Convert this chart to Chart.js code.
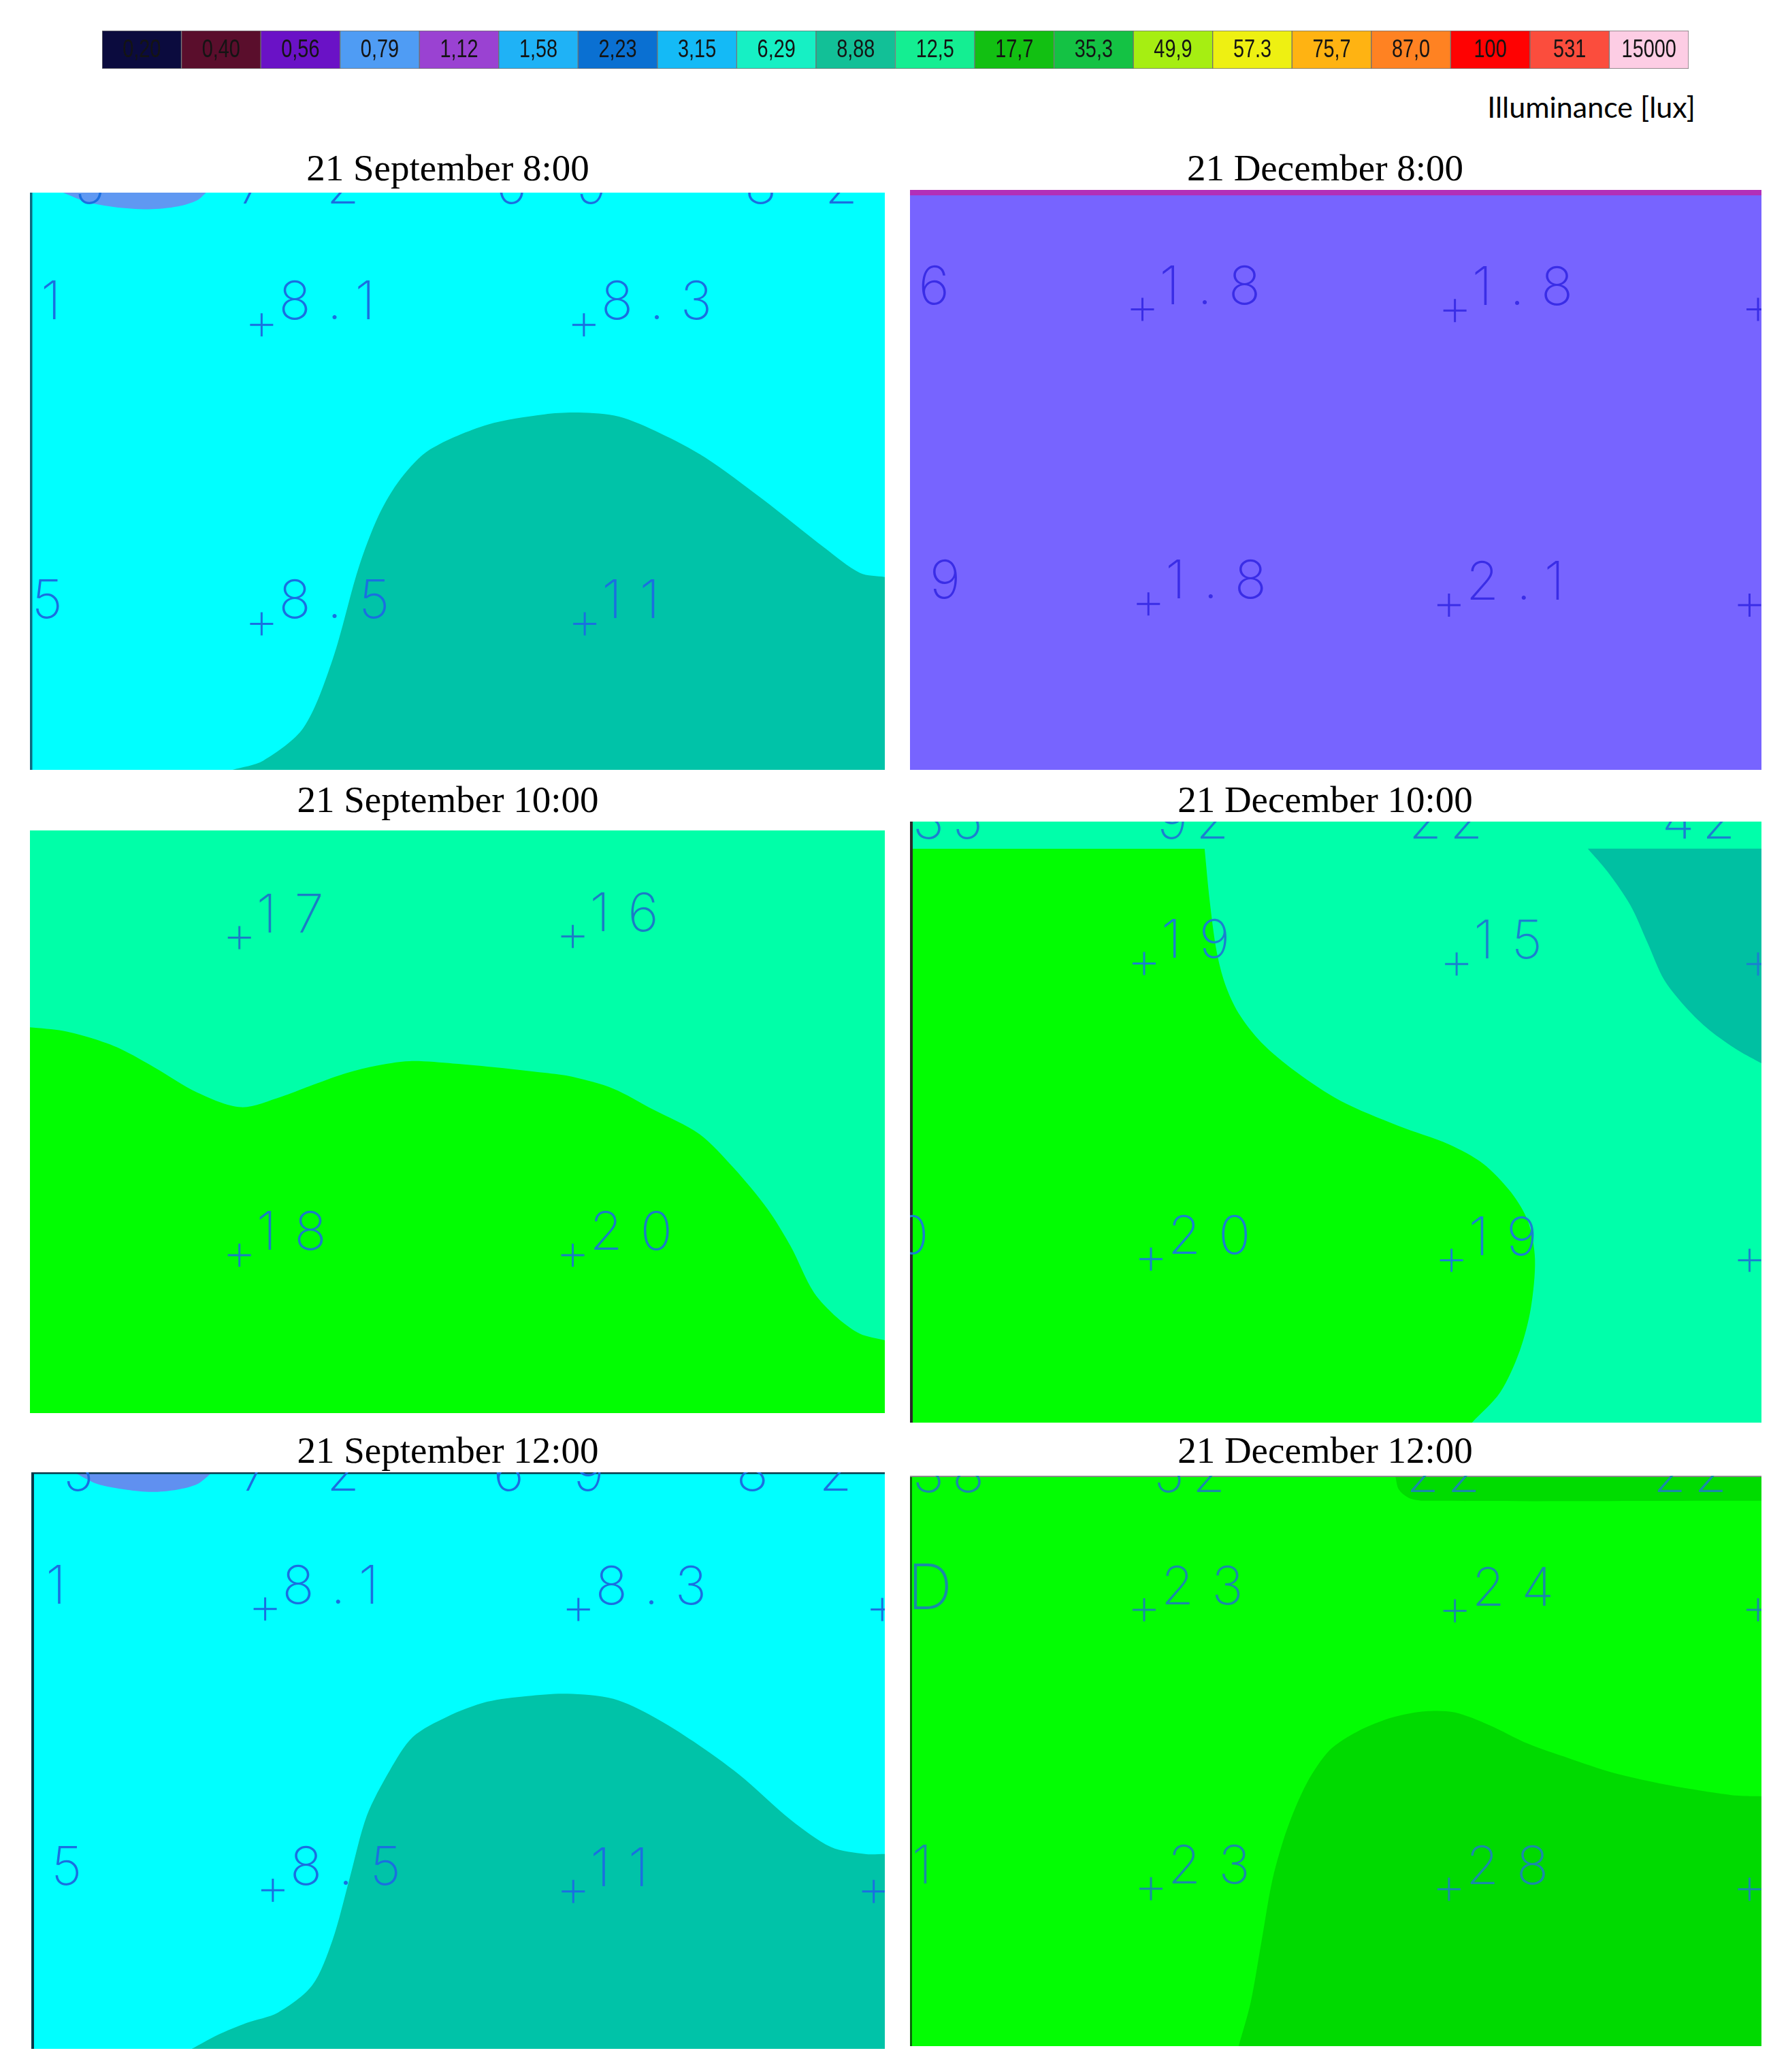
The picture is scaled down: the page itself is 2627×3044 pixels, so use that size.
<!DOCTYPE html>
<html>
<head>
<meta charset="utf-8">
<script src="https://cdn.jsdelivr.net/npm/chart.js@4.4.1/dist/chart.umd.min.js"></script>
<style>
  body { margin: 0; background: #fff; width: 2627px; height: 3044px; position: relative; overflow: hidden; }
  .ttl { position: absolute; font-family: 'Liberation Serif', serif; font-size: 55px; line-height: normal;
         color: #000; white-space: nowrap; transform: translateX(-50%); }
  #unit { position: absolute; right: 136px; top: 131px; font-family: Lato, 'Open Sans', sans-serif;
          font-size: 43px; line-height: normal; color: #000; white-space: nowrap; }
</style>
</head>
<body>
<canvas id="legend" width="2331" height="56" style="position:absolute;left:150px;top:45px"></canvas>
<div id="unit">Illuminance [lux]</div>
<script>
// colour key
const legendLabels = ['0,20', '0,40', '0,56', '0,79', '1,12', '1,58', '2,23', '3,15', '6,29', '8,88',
                      '12,5', '17,7', '35,3', '49,9', '57.3', '75,7', '87,0', '100', '531', '15000'];
const legendColors = ['#0b0b3e', '#5a0e2c', '#6a12c6', '#4f9cf4', '#9a42d2', '#1fb2f6', '#0a70d2', '#14baf6', '#16f0c4', '#12c097',
                      '#14ee92', '#12c012', '#14c244', '#a6ee12', '#eef012', '#ffb312', '#ff8222', '#ff0202', '#fb4d3d', '#fdcde4'];
const legendBand = [1, 1, 1, 1, 1, 1, 1, 1, 1, 1, 1, 1, 1, 1, 1, 1, 1, 1, 1, 1];

const panelTitles = ['21 September 8:00', '21 December 8:00', '21 September 10:00',
                     '21 December 10:00', '21 September 12:00', '21 December 12:00'];

// 21 September 8:00  (x, y in % of panel, y from top)
const sep8Teal = [[23.7, 100], [27.3, 98.4], [32.0, 92.7], [35.4, 80.9], [38.4, 65.2], [40.8, 55.9], [43.4, 49.5],
                  [46.8, 44.5], [53.5, 40.2], [60.2, 38.4], [64.2, 38.1], [68.9, 38.8], [73.6, 41.6], [79.0, 45.9],
                  [85.7, 53.1], [93.0, 61.6], [97.1, 65.9], [100, 66.6]];
const sep8Blob = [[3.9, 0], [6.6, 1.6], [9.9, 2.5], [13.9, 2.9], [17.3, 2.4], [19.6, 1.3], [20.6, 0]];
const sep8Points = [[27.1, 22.9], [64.8, 22.9], [27.1, 74.7], [64.9, 74.7], [-8.7, 22.9], [-10.2, 74.7]];
const sep8Values = ['8.1', '8.3', '8.5', '11', '7.1', '7.5'];
const sep8TopX = [5.2, 24.3, 34.7, 54.5, 63.9, 83.6, 93.0];
const sep8TopText = ['5', '7', '2', '6', '9', '8', '2'];

// 21 December 8:00
const dec8Band = [[0, 0.95], [100, 0.95]];
const dec8Points = [[27.3, 20.6], [64.0, 20.8], [28.0, 71.4], [63.3, 71.6], [98.6, 71.6], [99.6, 20.6], [-9.1, 20.6], [-7.9, 71.4]];
const dec8Values = ['1.8', '1.8', '1.8', '2.1', '', '', '1.6', '1.9'];

// 21 September 10:00
const sep10Green = [[0, 33.8], [3.9, 34.4], [7.3, 35.7], [10.6, 37.5], [14.6, 40.7], [19.6, 45.0], [24.7, 47.5],
                    [29.4, 45.7], [32.7, 43.9], [36.7, 41.8], [40.1, 40.5], [44.4, 39.6], [49.5, 40.0], [54.8, 40.7],
                    [60.2, 41.6], [63.5, 42.3], [68.2, 44.3], [72.9, 47.9], [78.3, 52.1], [82.3, 57.9], [86.3, 65.0],
                    [89.0, 71.4], [91.7, 79.3], [94.4, 83.6], [97.1, 86.4], [100, 87.5]];
const sep10Points = [[24.5, 18.4], [63.5, 18.2], [24.5, 72.9], [63.5, 72.9]];
const sep10Values = ['17', '16', '18', '20'];

// 21 December 10:00
const dec10Green = [[34.6, 4.5], [35.2, 13.2], [36.0, 21.5], [37.0, 27.0], [38.6, 31.9], [41.3, 36.8], [45.3, 41.6],
                    [50.6, 46.5], [57.3, 50.6], [63.3, 53.7], [67.3, 56.9], [70.6, 61.7], [72.6, 66.6], [73.4, 72.8],
                    [72.9, 81.1], [71.6, 88.1], [69.3, 95.0], [66.0, 100]];
const dec10Teal = [[79.6, 4.5], [81.9, 8.3], [84.6, 13.9], [86.6, 20.1], [88.6, 26.4], [91.3, 31.2], [93.9, 34.7],
                   [97.3, 38.1], [100, 40.2]];
const dec10Points = [[27.5, 23.6], [64.2, 23.7], [28.3, 72.8], [63.6, 73.0], [98.6, 73.0], [99.6, 23.7], [-9.5, 72.8]];
const dec10Values = ['19', '15', '20', '19', '', '', '20'];
const dec10TopX = [0.3, 29.0, 58.6, 88.3];
const dec10TopText = ['35', '92', '22', '42'];

// 21 September 12:00
const sep12Teal = [[18.8, 100], [21.8, 97.6], [25.2, 95.5], [28.9, 93.7], [32.9, 89.0], [35.3, 81.1], [37.3, 70.4],
                   [39.3, 59.6], [42.0, 51.7], [44.7, 45.9], [48.7, 42.4], [53.4, 39.8], [58.1, 38.8], [62.8, 38.4],
                   [68.2, 39.3], [72.9, 42.4], [77.6, 46.7], [82.9, 52.4], [89.0, 60.3], [93.7, 65.0], [97.7, 66.2],
                   [100, 66.2]];
const sep12Blob = [[5.0, 0], [7.7, 2.0], [11.1, 3.0], [14.1, 3.4], [17.1, 3.0], [19.5, 2.0], [21.2, 0]];
const sep12Points = [[27.4, 23.7], [64.1, 23.8], [28.3, 72.5], [63.5, 72.7], [98.7, 72.7], [99.7, 23.8], [-8.3, 23.7], [-8.1, 72.5]];
const sep12Values = ['8.1', '8.3', '8.5', '11', '', '', '7.1', '7.5'];
const sep12TopX = [3.7, 24.5, 34.6, 54.1, 63.5, 82.6, 92.3];
const sep12TopText = ['5', '7', '2', '6', '9', '8', '2'];

// 21 December 12:00
const dec12Dark = [[38.6, 100], [40.0, 92.4], [41.3, 81.5], [42.6, 70.6], [44.3, 61.9], [46.6, 53.9], [49.3, 48.1],
                   [52.6, 44.8], [56.6, 42.4], [60.6, 41.3], [64.0, 41.5], [68.0, 43.7], [72.6, 47.0], [77.3, 49.5],
                   [82.6, 52.1], [87.9, 53.9], [93.3, 55.3], [97.3, 56.1], [100, 56.2]];
const dec12Strip = [[57.0, 0], [57.4, 2.4], [58.6, 3.9], [60.5, 4.4], [100, 4.4]];
const dec12Points = [[27.5, 23.5], [64.0, 23.7], [28.3, 72.4], [63.3, 72.5], [98.6, 72.5], [99.6, 23.5], [-7.7, 72.4]];
const dec12Values = ['23', '24', '23', '28', '', '', '21'];
const dec12TopX = [0.3, 28.6, 58.3, 87.3];
const dec12TopText = ['38', '52', '22', '22'];
const dec12DoorX = [-0.3];
const dec12DoorY = [23.4];
const dec12DoorText = ['D'];

// panel boxes on the page: left, top, width, height
const panelRects = [[44, 283, 1256, 848], [1337, 279, 1251, 852], [44, 1220, 1256, 856],
                    [1337, 1207, 1251, 883], [46, 2163, 1254, 847], [1337, 2168, 1251, 838]];
const titleCenters = [658, 1947];
const titleTops = [215, 1143, 2099];

const labelFont = '200 78px Inter, Roboto, sans-serif';

const pts = arr => arr.map(([x, y]) => ({ x, y }));

// draws the number labels next to the points
const textMarks = {
  id: 'textMarks',
  afterDatasetsDraw(chart) {
    const ctx = chart.ctx;
    chart.data.datasets.forEach((ds, i) => {
      if (!ds.texts) return;
      const meta = chart.getDatasetMeta(i);
      ctx.save();
      ctx.fillStyle = ds.textColor;
      ctx.font = ds.textFont || labelFont;
      ctx.letterSpacing = ds.textSpacing || '26px';
      ctx.textBaseline = 'alphabetic';
      meta.data.forEach((pt, j) => {
        const s = ds.texts[j];
        if (s) ctx.fillText(s, pt.x + (ds.textDx || 0), pt.y + (ds.textDy || 0));
      });
      ctx.restore();
    });
  }
};

function region(points, color, toValue, vertical) {
  return { data: pts(points), fill: { value: toValue }, backgroundColor: color, borderWidth: 0,
           pointRadius: 0, tension: 0.3, indexAxis: vertical ? 'y' : 'x' };
}
function base(color) {
  return region([[0, 0], [100, 0]], color, 100, false);
}
function edge(points, color, width) {
  return { data: pts(points), borderColor: color, borderWidth: width, pointRadius: 0, fill: false };
}
function crosses(points, values, color) {
  return { data: pts(points), showLine: false, pointStyle: 'cross', pointRadius: 17, pointBorderWidth: 3,
           pointBorderColor: color, pointBackgroundColor: color, texts: values, textColor: color,
           textDx: 25, textDy: -8 };
}
function topText(xs, texts, yPct, color) {
  return { data: xs.map(x => ({ x, y: yPct })), showLine: false, pointRadius: 0, texts, textColor: color,
           textSpacing: '12px' };
}

function buildPanel(idx, layers) {
  const r = panelRects[idx];
  const cv = document.createElement('canvas');
  cv.width = r[2];
  cv.height = r[3];
  cv.style.cssText = 'position:absolute;left:' + r[0] + 'px;top:' + r[1] + 'px';
  document.body.appendChild(cv);
  layers.forEach((ds, i) => { ds.order = layers.length - i; });
  new Chart(cv, {
    type: 'line',
    data: { datasets: layers },
    options: {
      animation: false, responsive: false, devicePixelRatio: 1, events: [],
      layout: { padding: 0, autoPadding: false },
      plugins: { legend: { display: false }, tooltip: { enabled: false } },
      scales: {
        x: { type: 'linear', min: 0, max: 100, display: false },
        y: { type: 'linear', min: 0, max: 100, reverse: true, display: false }
      }
    },
    plugins: [textMarks]
  });
}

// titles
panelTitles.forEach((t, i) => {
  const d = document.createElement('div');
  d.className = 'ttl';
  d.textContent = t;
  d.style.left = titleCenters[i % 2] + 'px';
  d.style.top = titleTops[Math.floor(i / 2)] + 'px';
  document.body.appendChild(d);
});

// colour key bar
const cellText = {
  id: 'cellText',
  afterDatasetsDraw(chart) {
    const ctx = chart.ctx;
    const area = chart.chartArea;
    ctx.save();
    ctx.fillStyle = '#141414';
    ctx.font = '37px "Liberation Sans", Arial, sans-serif';
    ctx.textAlign = 'center';
    ctx.textBaseline = 'middle';
    chart.getDatasetMeta(0).data.forEach((bar, j) => {
      ctx.save();
      ctx.translate(bar.x, (area.top + area.bottom) / 2 + 1);
      ctx.scale(0.78, 1);
      ctx.fillText(legendLabels[j], 0, 0);
      ctx.restore();
    });
    ctx.restore();
  }
};
new Chart(document.getElementById('legend'), {
  type: 'bar',
  data: {
    labels: legendLabels,
    datasets: [{ data: legendBand, backgroundColor: legendColors, borderColor: '#707070', borderWidth: 1,
                 borderSkipped: false, categoryPercentage: 1, barPercentage: 1 }]
  },
  options: {
    animation: false, responsive: false, devicePixelRatio: 1, events: [],
    layout: { padding: 0, autoPadding: false },
    plugins: { legend: { display: false }, tooltip: { enabled: false } },
    scales: { x: { display: false }, y: { display: false, min: 0, max: 1 } }
  },
  plugins: [cellText]
});

// six panels
buildPanel(0, [
  base('#00ffff'),
  region(sep8Teal, '#00c3a8', 100, false),
  region(sep8Blob, '#5f98f2', 0, false),
  edge([[0, 0], [0, 100]], '#0e6a80', 7),
  topText(sep8TopX, sep8TopText, 1.9, '#1a6fe0'),
  crosses(sep8Points, sep8Values, '#1a6fe0')
]);
buildPanel(1, [
  base('#7764ff'),
  region(dec8Band, '#b22fb8', 0, false),
  crosses(dec8Points, dec8Values, '#3a2de6')
]);
buildPanel(2, [
  base('#00ffa8'),
  region(sep10Green, '#02fd02', 100, false),
  crosses(sep10Points, sep10Values, '#1a7cc6')
]);
buildPanel(3, [
  base('#00ffaa'),
  region(dec10Green, '#02fd02', 0, true),
  region(dec10Teal, '#00c0a2', 4.5, false),
  edge([[0, 0], [0, 100]], '#2a2a2a', 8),
  topText(dec10TopX, dec10TopText, 2.8, '#1a80d0'),
  crosses(dec10Points, dec10Values, '#1a80d0')
]);
buildPanel(4, [
  base('#00ffff'),
  region(sep12Teal, '#00c3a8', 100, false),
  region(sep12Blob, '#6090f0', 0, false),
  edge([[0, 0], [0, 100]], '#0a3848', 8),
  edge([[0, 0], [100, 0]], '#0a3848', 5),
  topText(sep12TopX, sep12TopText, 3.2, '#1a6fe0'),
  crosses(sep12Points, sep12Values, '#1a6fe0')
]);
buildPanel(5, [
  base('#03fd03'),
  region(dec12Dark, '#00da00', 100, false),
  region(dec12Strip, '#00dc00', 0, false),
  edge([[0, 0], [0, 100]], '#0a6a0a', 6),
  edge([[0, 0], [100, 0]], '#8a8a8a', 4),
  topText(dec12TopX, dec12TopText, 2.9, '#1a8aa8'),
  { data: dec12DoorX.map((x, i) => ({ x, y: dec12DoorY[i] })), showLine: false, pointRadius: 0,
    texts: dec12DoorText, textColor: '#1a8aa8', textFont: '200 92px Inter, Roboto, sans-serif' },
  crosses(dec12Points, dec12Values, '#1a8aa8')
]);
</script>
</body>
</html>
